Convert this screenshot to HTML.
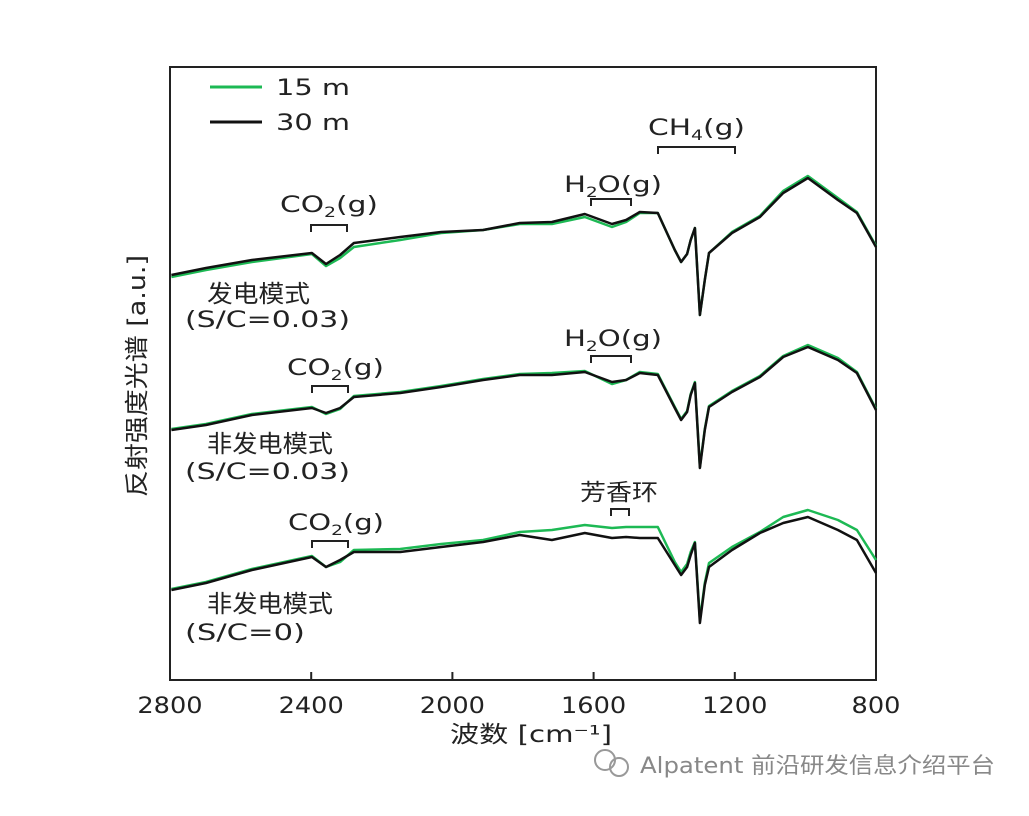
<!DOCTYPE html>
<html><head><meta charset="utf-8"><style>
body{margin:0;background:#fff;width:1029px;height:811px;overflow:hidden}
svg text{font-family:"DejaVu Sans","Noto Sans CJK SC",sans-serif;fill:#222}
</style></head><body>
<svg id="chart" width="1029" height="811" xmlns="http://www.w3.org/2000/svg">
<rect x="170" y="67" width="706" height="613" fill="none" stroke="#222" stroke-width="2"/>
<g id="ticks"></g>
<g id="series"></g>
<g>
<line x1="210" y1="87" x2="262" y2="87" stroke="#1db954" stroke-width="3"/>
<text x="276" y="95" font-size="22" textLength="74" lengthAdjust="spacingAndGlyphs">15 m</text>
<line x1="210" y1="122" x2="262" y2="122" stroke="#111" stroke-width="3"/>
<text x="276" y="130" font-size="22" textLength="74" lengthAdjust="spacingAndGlyphs">30 m</text>
</g>
<g fill="none" stroke="#222" stroke-width="2">
<path d="M658 154V147H735V154"/><path d="M591 206V199H631V206"/><path d="M311 232V225H347V232"/>
<path d="M591 363V356H631V363"/><path d="M312 393V386H348V393"/><path d="M611 516V509H629V516"/>
<path d="M312 548V541H348V548"/>
</g>
<g font-size="22">
<text x="648" y="135" textLength="97" lengthAdjust="spacingAndGlyphs">CH<tspan font-size="14" dy="5">4</tspan><tspan dy="-5">(g)</tspan></text>
<text x="564" y="192" textLength="98" lengthAdjust="spacingAndGlyphs">H<tspan font-size="14" dy="5">2</tspan><tspan dy="-5">O(g)</tspan></text>
<text x="280" y="212" textLength="98" lengthAdjust="spacingAndGlyphs">CO<tspan font-size="14" dy="5">2</tspan><tspan dy="-5">(g)</tspan></text>
<text x="564" y="346" textLength="98" lengthAdjust="spacingAndGlyphs">H<tspan font-size="14" dy="5">2</tspan><tspan dy="-5">O(g)</tspan></text>
<text x="287" y="375" textLength="97" lengthAdjust="spacingAndGlyphs">CO<tspan font-size="14" dy="5">2</tspan><tspan dy="-5">(g)</tspan></text>
<text x="580" y="500" font-size="23" textLength="78" lengthAdjust="spacingAndGlyphs">芳香环</text>
<text x="288" y="530" textLength="96" lengthAdjust="spacingAndGlyphs">CO<tspan font-size="14" dy="5">2</tspan><tspan dy="-5">(g)</tspan></text>
<text x="207" y="302" font-size="24" textLength="103" lengthAdjust="spacingAndGlyphs">发电模式</text>
<text x="185" y="327" textLength="165" lengthAdjust="spacingAndGlyphs">(S/C=0.03)</text>
<text x="207" y="452" font-size="24" textLength="126" lengthAdjust="spacingAndGlyphs">非发电模式</text>
<text x="185" y="479" textLength="165" lengthAdjust="spacingAndGlyphs">(S/C=0.03)</text>
<text x="207" y="612" font-size="24" textLength="126" lengthAdjust="spacingAndGlyphs">非发电模式</text>
<text x="185" y="640" textLength="120" lengthAdjust="spacingAndGlyphs">(S/C=0)</text>
</g>
<text x="450" y="742" font-size="23" textLength="162" lengthAdjust="spacingAndGlyphs">波数 [cm⁻¹]</text>
<text transform="translate(145,497) rotate(-90)" font-size="24" textLength="242" lengthAdjust="spacingAndGlyphs">反射强度光谱 [a.u.]</text>
<g>
<circle cx="605" cy="760" r="10" fill="none" stroke="#999" stroke-width="2"/>
<circle cx="619" cy="767" r="9" fill="none" stroke="#999" stroke-width="2"/>
<text x="640" y="773" font-size="22" textLength="355" lengthAdjust="spacingAndGlyphs" style="fill:#888">Alpatent 前沿研发信息介绍平台</text>
</g>
</svg>
<script>
const xTicks=[2800,2400,2000,1600,1200,800];
const waves=[2796,2698,2568,2398,2358,2318,2279,2148,2032,1913,1809,1718,1625,1548,1508,1469,1418,1370,1352,1335,1325,1313,1299,1285,1273,1208,1129,1063,993,908,854,800];
const topBlack=[405,412,420,427,416,425,437,443,448,450,457,458,466,456,460,468,467,430,418,426,440,452,365,400,427,447,463,487,502,480,467,433];
const topGreen=[403,410,418,426,414,422,433,440,447,450,456,456,463,453,458,467,467,430,418,426,440,452,365,400,427,448,464,489,504,482,468,434];
const midBlack=[250,255,265,272,267,272,283,287,293,300,305,305,308,298,300,307,305,272,260,268,285,297,212,250,273,288,303,323,333,320,307,270];
const midGreen=[251,256,266,273,266,271,284,288,294,301,306,307,309,296,300,308,306,273,261,269,286,298,213,251,274,289,304,324,335,322,308,271];
const botBlack=[90,97,110,123,113,120,128,128,133,138,145,140,147,142,143,142,142,115,105,113,125,137,57,95,113,130,147,157,163,150,140,107];
const botGreen=[91,98,111,124,113,118,130,131,136,140,148,150,155,152,153,153,153,118,108,116,128,138,60,97,117,133,148,163,170,160,150,120];
const X=w=>170+(2800-w)*706/2000;
const Y=v=>680-v;
const NS='http://www.w3.org/2000/svg';
const tg=document.getElementById('ticks');
xTicks.forEach(t=>{
 const l=document.createElementNS(NS,'line');
 
 
 l.setAttribute('x1',X(t));l.setAttribute('x2',X(t));l.setAttribute('y1',680);l.setAttribute('y2',672);
 l.setAttribute('stroke','#222');l.setAttribute('stroke-width','2');tg.appendChild(l);
 const tx=document.createElementNS(NS,'text');
 
 
 const w=String(t).length*16.3;
 tx.setAttribute('x',X(t)-w/2);tx.setAttribute('y',713);tx.setAttribute('font-size','22');
 tx.setAttribute('textLength',w);tx.setAttribute('lengthAdjust','spacingAndGlyphs');
 tx.textContent=t;tg.appendChild(tx);
});
const sg=document.getElementById('series');
function draw(vals,color,name){
 const p=document.createElementNS(NS,'path');
 
 
 p.setAttribute('d',vals.map((v,i)=>(i?'L':'M')+X(waves[i]).toFixed(1)+' '+Y(v)).join(''));
 p.setAttribute('fill','none');p.setAttribute('stroke',color);p.setAttribute('stroke-width','2.5');p.setAttribute('stroke-linejoin','round');
 sg.appendChild(p);
}
draw(topGreen,'#1db954','top-15m');draw(topBlack,'#111','top-30m');
draw(midGreen,'#1db954','mid-15m');draw(midBlack,'#111','mid-30m');
draw(botGreen,'#1db954','bottom-15m');draw(botBlack,'#111','bottom-30m');
</script>
</body></html>
